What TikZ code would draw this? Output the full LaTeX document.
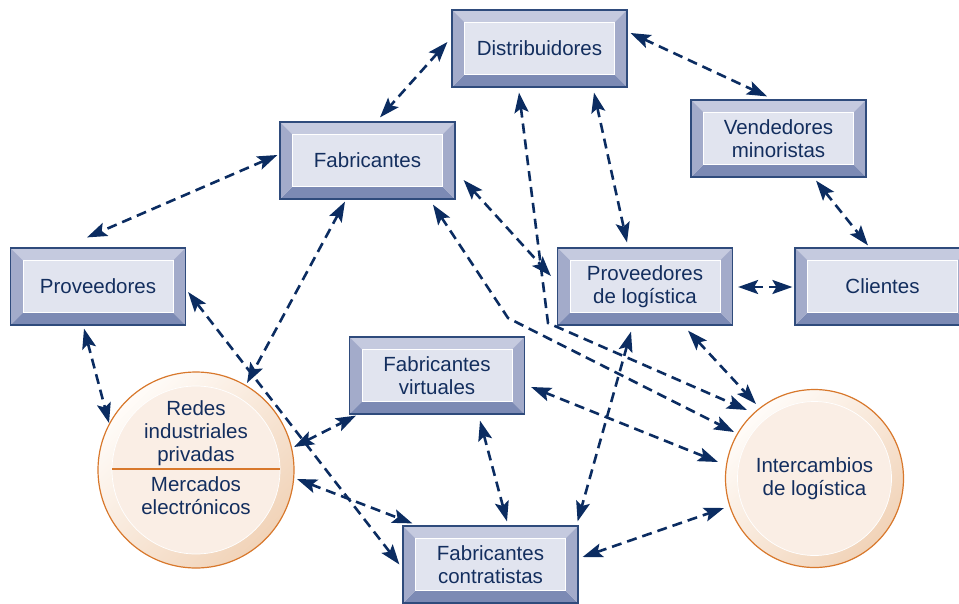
\documentclass[tikz,border=0pt]{standalone}
\usepackage{fontspec}
\setmainfont{Liberation Sans}
\usetikzlibrary{arrows.meta}
\definecolor{boxedge}{HTML}{2F4B7C}
\definecolor{bevtop}{HTML}{C5CADF}
\definecolor{bevside}{HTML}{A3ABCA}
\definecolor{bevbot}{HTML}{7C8AB4}
\definecolor{boxface}{HTML}{E1E4EF}
\definecolor{txt}{HTML}{132E5E}
\definecolor{arrc}{HTML}{0B2C61}
\definecolor{orng}{HTML}{D8782C}
\definecolor{ringL}{HTML}{FFFCF9}
\definecolor{ringR}{HTML}{F1D3B8}
\definecolor{discin}{HTML}{FAEEE5}
\newcommand{\labfont}{\fontsize{20.5pt}{23pt}\selectfont}
\def\bv{12.5pt}
\tikzset{
  bevbox/.style={rectangle, minimum width=175pt, minimum height=77pt, inner sep=0pt,
    align=center, fill=boxface, draw=boxedge, line width=1.2pt, text=txt, font=\labfont,
    path picture={
      \fill[bevtop] (path picture bounding box.north west) -- (path picture bounding box.north east)
        -- ([shift={(-\bv,-\bv)}]path picture bounding box.north east)
        -- ([shift={(\bv,-\bv)}]path picture bounding box.north west) -- cycle;
      \fill[bevbot] (path picture bounding box.south west) -- (path picture bounding box.south east)
        -- ([shift={(-\bv,\bv)}]path picture bounding box.south east)
        -- ([shift={(\bv,\bv)}]path picture bounding box.south west) -- cycle;
      \fill[bevside] (path picture bounding box.north west)
        -- ([shift={(\bv,-\bv)}]path picture bounding box.north west)
        -- ([shift={(\bv,\bv)}]path picture bounding box.south west)
        -- (path picture bounding box.south west) -- cycle;
      \fill[bevside] (path picture bounding box.north east)
        -- ([shift={(-\bv,-\bv)}]path picture bounding box.north east)
        -- ([shift={(-\bv,\bv)}]path picture bounding box.south east)
        -- (path picture bounding box.south east) -- cycle;
      \draw[white, line width=0.9pt] ([shift={(\bv,-\bv)}]path picture bounding box.north west)
        rectangle ([shift={(-\bv,\bv)}]path picture bounding box.south east);
    }},
  disc/.style={circle, inner sep=0pt, draw=orng, line width=1.2pt, text=txt, font=\labfont, align=center,
    top color=ringL, bottom color=ringR, shading angle=45,
    path picture={
      \fill[discin] (path picture bounding box.center) circle (#1);
      \draw[white, line width=0.7pt] (path picture bounding box.center) circle (#1);
    }},
  txtnode/.style={text=txt, font=\labfont, align=center, inner sep=0pt},
  con/.style={draw=arrc, line width=2.6pt, dash pattern=on 10pt off 6pt,
    {Stealth[length=20pt,width=14pt,inset=4pt]}-{Stealth[length=20pt,width=14pt,inset=4pt]}}
}
\begin{document}
\begin{tikzpicture}[x=1pt,y=-1pt]
\useasboundingbox (0,0) rectangle (959,603);
\clip (0,0) rectangle (959,603);
% boxes
\node[bevbox] (dist) at (539.5,48.5) {Distribuidores};
\node[bevbox] (fab)  at (367.5,160.5) {Fabricantes};
\node[bevbox] (prov) at (98,286.5) {Proveedores};
\node[bevbox] (fv)   at (437,375.5) {Fabricantes\\virtuales};
\node[bevbox] (plog) at (645,286.5) {Proveedores\\de logística};
\node[bevbox] (vend) at (778.5,138.5) {Vendedores\\minoristas};
\node[bevbox] (cli)  at (882.5,286.5) {Clientes};
\node[bevbox] (fc)   at (490.5,564.5) {Fabricantes\\contratistas};
% circles
\node[disc=84pt, minimum size=196pt] (redes) at (196,470) {};
\draw[orng, line width=2.5pt] ([xshift=-84pt,yshift=1pt]redes.center) -- ([xshift=84pt,yshift=1pt]redes.center);
\node[txtnode] (redesA) at (196,433) {Redes\\industriales\\privadas};
\node[txtnode] (redesB) at (196,495.5) {Mercados\\electrónicos};
\node[disc=77pt, minimum size=178pt] (inter) at (814.5,478.5) {Intercambios\\de logística};
% bend points
\coordinate (bendA) at (508,318);
\coordinate (bendB) at (548,323);
% connectors
\draw[con] ([xshift=-4pt,yshift=6.5pt]dist.west) -- ([xshift=12.5pt,yshift=4pt]fab.north);
\draw[con] ([xshift=3pt,yshift=15.5pt]dist.east) -- ([xshift=-11.5pt,yshift=3pt]vend.north);
\draw[con] ([xshift=54.5pt,yshift=-5pt]dist.south) -- ([xshift=-18pt,yshift=5pt]plog.north);
\draw[con] ([xshift=-20.5pt,yshift=-5pt]dist.south) -- (bendB) -- ([xshift=-67.5pt,yshift=68.5pt]inter.center);
\draw[con] ([xshift=65.5pt,yshift=-5pt]fab.south) -- (bendA) -- ([xshift=-80.5pt,yshift=46.5pt]inter.center);
\draw[con] ([xshift=8pt,yshift=-19.5pt]fab.east) -- ([xshift=-6pt,yshift=10.5pt]plog.west);
\draw[con] ([xshift=-2pt,yshift=5.5pt]fab.west) -- ([xshift=-11pt,yshift=10pt]prov.north);
\draw[con] ([xshift=-22.5pt,yshift=-2pt]fab.south) -- ([xshift=51pt,yshift=87pt]redes.center);
\draw[con] ([xshift=-14pt,yshift=-3pt]prov.south) -- ([xshift=-87pt,yshift=47pt]redes.center);
\draw[con] ([xshift=2pt,yshift=-5.5pt]prov.east) -- ([xshift=-3pt,yshift=0pt]fc.west);
\draw[con] ([xshift=98pt,yshift=23pt]redes.center) -- ([xshift=7pt,yshift=-1pt]fv.south west);
\draw[con] ([xshift=101pt,yshift=-9pt]redes.center) -- ([xshift=10pt,yshift=2pt]fc.north west);
\draw[con] ([xshift=43pt,yshift=-6pt]fv.south) -- ([xshift=16.5pt,yshift=4pt]fc.north);
\draw[con] ([xshift=6pt,yshift=-11.5pt]fv.east) -- ([xshift=-96.5pt,yshift=16.5pt]inter.center);
\draw[con] ([xshift=4pt,yshift=7.5pt]fc.east) -- ([xshift=-90.5pt,yshift=-29.5pt]inter.center);
\draw[con] ([xshift=43pt,yshift=-5pt]plog.south) -- ([xshift=-58.5pt,yshift=74.5pt]inter.center);
\draw[con] ([xshift=-14pt,yshift=-6pt]plog.south) -- ([xshift=-1pt,yshift=4pt]fc.north east);
\draw[con] ([xshift=5pt,yshift=-0.5pt]plog.east) -- ([xshift=-2pt,yshift=-0.5pt]cli.west);
\draw[con] ([xshift=37.5pt,yshift=-3pt]vend.south) -- ([xshift=-14.5pt,yshift=2pt]cli.north);
\end{tikzpicture}
\end{document}
